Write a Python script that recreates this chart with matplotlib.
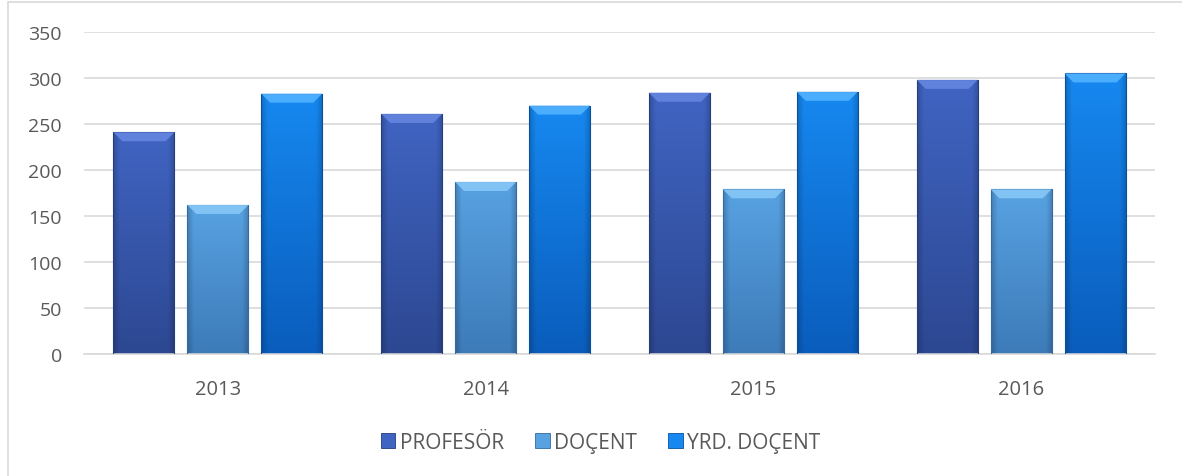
#!/usr/bin/env python3

import numpy as np

import matplotlib
matplotlib.use("Agg")
import matplotlib.pyplot as plt
from matplotlib.patches import Rectangle, Polygon, Patch
from matplotlib.colors import to_rgb


years = ["2013", "2014", "2015", "2016"]
series = ["PROFESÖR", "DOÇENT", "YRD. DOÇENT"]
profesor = [241, 261, 284, 298]
docent = [162, 187, 179, 179]
yrd_docent = [283, 270, 285, 305]
y_ticks = [0, 50, 100, 150, 200, 250, 300, 350]

# body colour (top, bottom) and bevel colour per series
body_top = ["#4064c2", "#58a2e2", "#1688f0"]
body_bottom = ["#2d4892", "#3d7bb9", "#0a5dbc"]
bevel = ["#6486e0", "#86c8f7", "#52b2ff"]
edge = ["#263d7d", "#336aa3", "#0a4f9e"]

TEXT = "#595959"
GRID = "#d9d9d9"


def gradient_image(top, bottom, n=64):
    t = np.linspace(0, 1, n)[:, None]
    a = np.array(to_rgb(top))
    b = np.array(to_rgb(bottom))
    col = a[None, None, :] * (1 - t[..., None]) + b[None, None, :] * t[..., None]
    col = np.repeat(col, 32, axis=1)
    # darker at the left / right edges, like a bevel
    xs = np.linspace(-1, 1, 32)
    shade = 1 - 0.18 * np.clip((np.abs(xs) - 0.8) / 0.2, 0, 1)
    return np.clip(col * shade[None, :, None], 0, 1)


def draw_bar(ax, x0, w, h, k):
    rect = Rectangle((x0, 0), w, h, facecolor="none", edgecolor="none")
    ax.add_patch(rect)
    img = ax.imshow(gradient_image(body_top[k], body_bottom[k]),
                    extent=(x0, x0 + w, 0, h), aspect="auto",
                    origin="upper", zorder=2, interpolation="bilinear")
    img.set_clip_path(rect)
    ax.add_patch(Rectangle((x0, 0), w, h, facecolor="none",
                           edgecolor=edge[k], lw=0.8, zorder=3))
    # top bevel, about 9 px high, inset 9 px at the sides
    to_px = ax.transData
    px0, py1 = to_px.transform((x0, h))
    px1, _ = to_px.transform((x0 + w, h))
    inv = to_px.inverted()
    a = inv.transform((px0 + 9, py1 - 9))
    b = inv.transform((px1 - 9, py1 - 9))
    ax.add_patch(Polygon([(x0, h), (x0 + w, h), (b[0], b[1]), (a[0], a[1])],
                         closed=True, facecolor=bevel[k], edgecolor="none",
                         zorder=3, alpha=0.9))


def main():
    plt.rcParams["font.family"] = ["Open Sans", "DejaVu Sans"]
    fig = plt.figure(figsize=(11.82, 4.77), dpi=100)
    ax = fig.add_axes([84 / 1182, 1 - 355 / 477, (1155 - 84) / 1182, 322 / 477])

    ax.set_xlim(-0.5, len(years) - 0.5)
    ax.set_ylim(0, 350)

    values = [profesor, docent, yrd_docent]
    width = 0.228
    step = 0.276
    x = np.arange(len(years))
    for k, vals in enumerate(values):
        for i, v in enumerate(vals):
            draw_bar(ax, x[i] + (k - 1) * step - width / 2, width, v, k)

    ax.set_xlim(-0.5, len(years) - 0.5)
    ax.set_ylim(0, 350)
    ax.set_yticks(y_ticks)
    ax.set_xticks(x)
    ax.set_xticklabels(years)
    ax.yaxis.grid(True, color=GRID, lw=1.2)
    ax.set_axisbelow(True)
    for s in ["top", "right", "left"]:
        ax.spines[s].set_visible(False)
    ax.spines["bottom"].set_color(GRID)
    ax.spines["bottom"].set_linewidth(1.2)
    ax.tick_params(axis="both", length=0, labelsize=14, labelcolor=TEXT)
    ax.tick_params(axis="x", labelsize=14.5)
    ax.tick_params(axis="y", pad=16)
    ax.tick_params(axis="x", pad=18)

    handles = [Patch(facecolor=body_top[k], edgecolor=edge[k], lw=0.6)
               for k in range(3)]
    fig.legend(handles, series, loc="center", bbox_to_anchor=(0.508, 0.071),
               ncol=3, frameon=False, fontsize=15, labelcolor=TEXT,
               handlelength=0.7, handleheight=0.7, handletextpad=0.2,
               columnspacing=1.5)

    # chart frame (left and top edges show in the crop)
    fig.add_artist(Rectangle((8 / 1182, -0.5), 2, 1.5 - 3 / 477,
                             transform=fig.transFigure, facecolor="none",
                             edgecolor=GRID, lw=1.2))

    fig.savefig("out.png", dpi=100)


if __name__ == "__main__":
    main()
